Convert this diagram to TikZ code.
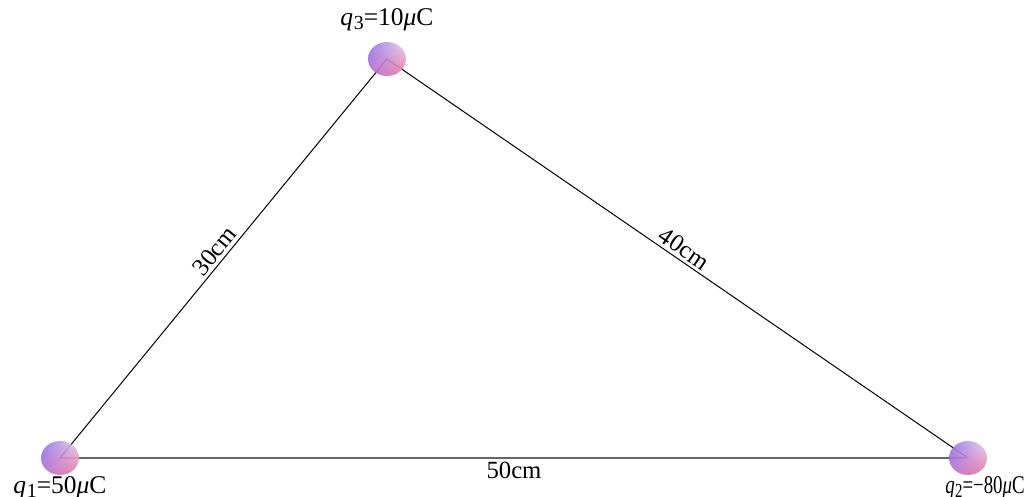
\documentclass[tikz,border=0pt]{standalone}
\usepackage{fontspec}
\setmainfont{Liberation Serif}
\usetikzlibrary{positioning,shapes.geometric,backgrounds,shadings}
\definecolor{ballUL}{RGB}{140,115,230}
\definecolor{ballUR}{RGB}{230,212,240}
\definecolor{ballLL}{RGB}{185,110,215}
\definecolor{ballLR}{RGB}{238,115,150}
\tikzset{
  charge/.style={
    ellipse,
    minimum width=19bp,
    minimum height=17bp,
    inner sep=0pt,
    shade,
    upper left=ballUL,
    upper right=ballUR,
    lower left=ballLL,
    lower right=ballLR,
    fill opacity=0.9
  },
  wire/.style={line width=0.5bp, draw=black},
  base/.style={line width=1bp, draw=black!60},
  dist/.style={font=\fontsize{12.4}{14}\selectfont, inner sep=1.5bp, sloped},
  chargeLabel/.style={font=\fontsize{12.8}{14}\selectfont, inner sep=0pt}
}
\newcommand{\qtext}[2]{\textit{q}\kern0.3pt\raisebox{-0.35ex}{\fontsize{10}{10}\selectfont #1}=#2\textit{μ}C}

\begin{document}
\begin{tikzpicture}[x=0.5bp,y=-0.5bp]
\useasboundingbox (0,0) rectangle (1025,497);

\node[charge] (q1) at (60,458) {};
\node[charge] (q3) at (387,59) {};
\node[charge] (q2) at (968,458) {};

\node[chargeLabel, above=5bp of q3] (l3) {\qtext{3}{10}};
\node[chargeLabel, below=0.5bp of q1] (l1) {\qtext{1}{50}};
\node[chargeLabel, below=0.5bp of q2, xshift=8.5bp] (l2) {\scalebox{0.74}[1]{\qtext{2}{−80}}};

\begin{scope}[on background layer]
\draw[wire] (q1.center) -- node[dist, above] {30cm} (q3.center);
\draw[wire] (q3.center) -- node[dist, above] {40cm} (q2.center);
\draw[base] (q1.center) -- node[dist, below] {50cm} (q2.center);
\end{scope}
\end{tikzpicture}
\end{document}
